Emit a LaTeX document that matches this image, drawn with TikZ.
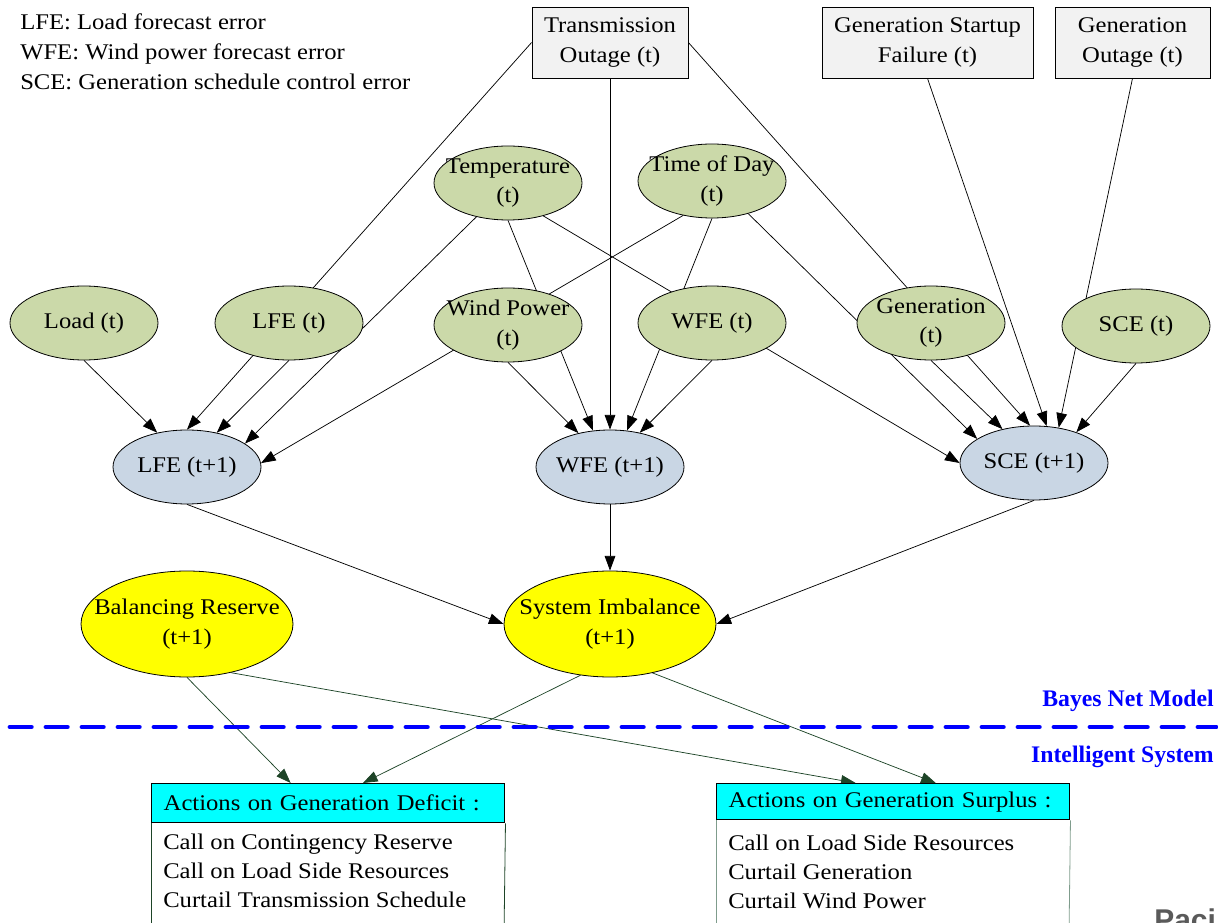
\documentclass[tikz,border=0pt]{standalone}
\usepackage{fontspec}
\setmainfont{Liberation Serif}[FakeStretch=1.1]
\newfontfamily\logofont{Liberation Sans}
\newfontfamily\sectfont{Liberation Serif}
\usetikzlibrary{shapes.geometric,arrows.meta,calc}
\pgfdeclarelayer{background}
\pgfsetlayers{background,main}
\definecolor{nodegreen}{HTML}{CBD9A9}
\definecolor{nodeblue}{HTML}{C9D6E4}
\definecolor{boxgray}{HTML}{F2F2F2}
\definecolor{edgegreen}{HTML}{1D4427}
\definecolor{surgray}{HTML}{7F9C8C}
\definecolor{logogray}{HTML}{5A5A5A}
\definecolor{hdrcyan}{HTML}{00FFFF}
\definecolor{keyyellow}{HTML}{FFFF00}
\definecolor{sepblue}{HTML}{0000FF}
\begin{document}
\begin{tikzpicture}[x=0.75pt,y=-0.75pt,
  txt/.style={font=\fontsize{16.8}{22}\selectfont},
  ell/.style={ellipse, draw=black, line width=0.6pt, inner sep=0pt,
    minimum width=111pt, minimum height=55.5pt},
  envnode/.style={ell, fill=nodegreen},
  fcnode/.style={ell, fill=nodeblue},
  keynode/.style={ell, fill=keyyellow, minimum width=159pt, minimum height=79.5pt},
  lbl/.style={txt, align=center, inner sep=0pt},
  evbox/.style={rectangle, draw=black, line width=0.6pt, fill=boxgray,
    minimum height=53.25pt, txt, align=center, inner sep=2pt},
  hdr/.style={rectangle, draw=black, line width=1.1pt, fill=hdrcyan,
    text width=246.75pt, inner xsep=9pt, inner ysep=0pt, align=left, txt, anchor=north west},
  plain/.style={txt, inner sep=0pt, anchor=base west},
  sect/.style={font=\sectfont\bfseries\fontsize{17.8}{22}\selectfont, text=sepblue, inner sep=0pt, anchor=base east},
  arr/.style={draw=black, line width=0.55pt, -{Triangle[length=11pt,width=8pt]}},
  garr/.style={draw=edgegreen, line width=0.55pt, -{Triangle[length=11pt,width=8pt]}},
  sep/.style={draw=sepblue, line width=3.6pt, line cap=round, dash pattern=on 16pt off 11pt},
]
\useasboundingbox (0,0) rectangle (1218,923);

% legend
\node[plain] (leg1) at (20,30) {LFE: Load forecast error};
\node[plain] (leg2) at (20,60) {WFE: Wind power forecast error};
\node[plain] (leg3) at (20,90) {SCE: Generation schedule control error};

% top event boxes
\node[evbox, minimum width=117pt] (trans) at (610,42.5) {Transmission\\Outage (t)};
\node[evbox, minimum width=158.25pt] (gsf) at (927.5,42.5) {Generation Startup\\Failure (t)};
\node[evbox, minimum width=116.25pt] (gout) at (1132.5,42.5) {Generation\\Outage (t)};

% environment nodes
\node[envnode, label={[lbl]center:{Temperature\\(t)}}] (temp) at (508,183) {};
\node[envnode, label={[lbl]center:{Time of Day\\(t)}}] (tod) at (712,181) {};
\node[envnode, label={[lbl]center:{Load (t)}}] (load) at (84,323) {};
\node[envnode, label={[lbl]center:{LFE (t)}}] (lfe) at (289,323) {};
\node[envnode, label={[lbl]center:{Wind Power\\(t)}}] (wind) at (508,325) {};
\node[envnode, label={[lbl]center:{WFE (t)}}] (wfe) at (712,323) {};
\node[envnode, label={[lbl]center:{Generation\\(t)}}] (gen) at (931,323) {};
\node[envnode, label={[lbl]center:{SCE (t)}}] (scet) at (1136,326) {};

% forecast nodes
\node[fcnode, label={[lbl]center:{LFE (t+1)}}] (lfe1) at (187,467) {};
\node[fcnode, label={[lbl]center:{WFE (t+1)}}] (wfe1) at (610,467) {};
\node[fcnode, label={[lbl]center:{SCE (t+1)}}] (sce1) at (1034,463) {};

% key nodes
\node[keynode, label={[lbl]center:{Balancing Reserve\\(t+1)}}] (br) at (187,624) {};
\node[keynode, label={[lbl]center:{System Imbalance\\(t+1)}}] (sys) at (610,624) {};

% section labels and separator
\node[sect] (bnm) at (1214,706) {Bayes Net Model};
\node[sect] (isys) at (1214,762) {Intelligent System};
\coordinate (sepL) at (10,727);
\coordinate (sepR) at (1216,727);
\draw[sep] (sepL) -- (sepR);

% action boxes
\node[hdr, minimum height=29.25pt] (defh) at (151,783) {Actions on Generation Deficit :};
\node[hdr, minimum height=27pt] (surh) at (716,783) {Actions on Generation Surplus :};
\coordinate (defbl) at (151,935);
\coordinate (defbr) at (504,935);
\coordinate (surbl) at (716,935);
\coordinate (surbr) at (1069,935);
\begin{pgfonlayer}{background}
\draw[edgegreen, line width=0.6pt] (defh.south west) -- (defbl);
\draw[edgegreen, line width=0.6pt] (defh.south east) -- (defbr);
\draw[surgray, line width=0.6pt] (surh.south west) -- (surbl);
\draw[surgray, line width=0.6pt] (surh.south east) -- (surbr);
\end{pgfonlayer}
\node[plain] (def1) at (163,849) {Call on Contingency Reserve};
\node[plain] (def2) at (163,878) {Call on Load Side Resources};
\node[plain] (def3) at (163,907) {Curtail Transmission Schedule};
\node[plain] (sur1) at (728,850) {Call on Load Side Resources};
\node[plain] (sur2) at (728,879) {Curtail Generation};
\node[plain] (sur3) at (728,908) {Curtail Wind Power};

% logo fragment
\node[anchor=north west, inner sep=0pt, text=logogray,
  font=\logofont\bfseries\fontsize{22.5}{27}\selectfont] (logo) at (1154,908) {Paci};

% connectors
\begin{pgfonlayer}{background}
\draw[arr] (trans.west) -- (lfe1.north);
\draw[arr] (lfe.south) -- (lfe1.49);
\draw[arr] (load.south) -- (lfe1.131);
\draw[arr] (temp.227) -- (lfe1.22);
\draw[arr] (tod.230) -- (lfe1.3);

\draw[arr] (temp.south) -- (wfe1.115);
\draw[arr] (wind.south) -- (wfe1.133);
\draw[arr] (trans.south) -- (wfe1.north);
\draw[arr] (tod.south) -- (wfe1.65);
\draw[arr] (wfe.south) -- (wfe1.49);

\draw[arr] (temp.-43) -- (sce1.west);
\draw[arr] (tod.-42) -- (sce1.157);
\draw[arr] (gen.south) -- (sce1.133);
\draw[arr] (trans.east) -- (sce1.96);
\draw[arr] (gsf.south) -- (sce1.71);
\draw[arr] (gout.south) -- (sce1.55);
\draw[arr] (scet.south) -- (sce1.36);

\draw[arr] (lfe1.south) -- (sys.west);
\draw[arr] (wfe1.south) -- (sys.north);
\draw[arr] (sce1.south) -- (sys.east);

\draw[garr] (br.south) -- ($(defh.north west)!0.394!(defh.north east)$);
\draw[garr] (br.-48) -- ($(surh.north west)!0.394!(surh.north east)$);
\draw[garr] (sys.-120) -- ($(defh.north west)!0.598!(defh.north east)$);
\draw[garr] (sys.-49) -- ($(surh.north west)!0.62!(surh.north east)$);
\end{pgfonlayer}
\end{tikzpicture}
\end{document}
